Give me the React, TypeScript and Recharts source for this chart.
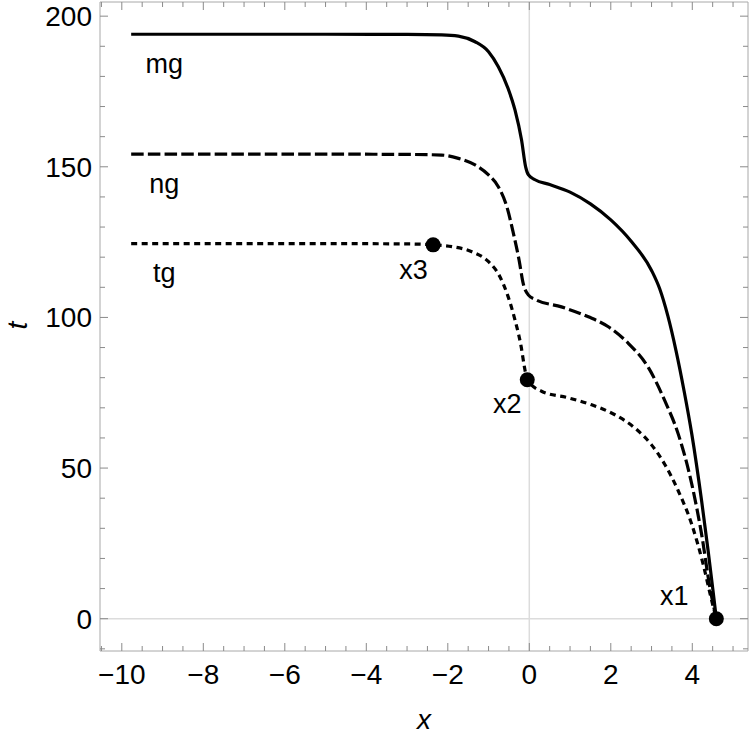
import { ComposedChart, Line, Scatter, XAxis, YAxis, ReferenceLine, Label } from "recharts";

const FONT = '"Liberation Sans", Arial, Helvetica, sans-serif';
const FRAME = "#a8a8a8";
const TICK = "#8a8a8a";
const ZERO = "#dcdcdc";

// axis ranges and tick labels
const X_DOMAIN: [number, number] = [-10.535, 5.367];
const T_DOMAIN: [number, number] = [-10.72, 204.7];
const X_MAJOR = [-10, -8, -6, -4, -2, 0, 2, 4];
const T_MAJOR = [0, 50, 100, 150, 200];
const X_MINOR_STEP = 0.5;
const T_MINOR_STEP = 10;

// marked points on the tg curve (x1 is shared by all three curves)
const X1: [number, number] = [4.59, 0];
const X2: [number, number] = [-0.05, 79.3];
const X3: [number, number] = [-2.36, 124.1];

// curves as [x, t]
const MG: [number, number][] = [
  [-9.77, 194], [-5, 194], [-3, 193.95], [-2.15, 193.8], [-1.74, 193.4], [-1.33, 191.5],
  [-1.0, 188.2], [-0.76, 183.2], [-0.52, 176], [-0.35, 168.8], [-0.19, 158.9], [-0.09, 150],
  [-0.02, 147.3], [0.14, 145.7], [0.5, 144.1], [1.0, 141.6], [1.5, 137.7], [2.0, 132.4],
  [2.5, 125.3], [3.0, 115.6], [3.2, 109.5], [3.4, 100.5], [3.6, 89], [3.8, 75.5],
  [3.99, 61.1], [4.23, 39], [4.39, 22.4], [4.52, 8], X1,
];

const NG: [number, number][] = [
  [-9.77, 154.2], [-5, 154.2], [-3, 154.1], [-2.15, 153.9], [-1.74, 152.8], [-1.33, 150.6],
  [-1.0, 147.3], [-0.76, 143.4], [-0.55, 136.7], [-0.39, 127.9], [-0.25, 119], [-0.15, 111.3],
  [-0.02, 107.4], [0.14, 106], [0.79, 103.5], [1.45, 100.2], [1.94, 96.9], [2.43, 91.4],
  [2.92, 83.4], [3.33, 72.2], [3.66, 61.1], [3.99, 44.5], [4.23, 27.9], [4.43, 10.5], X1,
];

const TG: [number, number][] = [
  [-9.77, 124.5], [-5, 124.5], [-3, 124.4], X3, [-1.9, 123.5], [-1.41, 121.8], [-1.0, 118.5],
  [-0.72, 113.5], [-0.52, 106.9], [-0.35, 99.1], [-0.2, 90.3], [-0.12, 83.6], X2,
  [0.3, 75.5], [0.96, 73.3], [1.53, 71], [2.1, 67.7], [2.59, 63.3], [3.0, 57.7], [3.33, 51.1],
  [3.66, 42.3], [3.99, 31.2], [4.27, 17.9], [4.48, 5.8], X1,
];

const CURVE_NAMES = ["mg", "ng", "tg"];
const POINT_NAMES = ["x1", "x2", "x3"];

// where each text sits relative to its anchor, in px
const NAME_OFFSET: [number, number] = [33, 38.5];
const POINT_OFFSET: Record<string, [number, number]> = {
  x1: [-42, -14],
  x2: [-20, 33],
  x3: [-19.5, 34],
};

const rows = (pts: [number, number][]) => pts.map(([x, t]) => ({ x, t }));

const mgData = rows(MG);
const ngData = rows(NG);
const tgData = rows(TG);
const nameData = [MG, NG, TG].map((c, i) => ({ x: c[0][0], t: c[0][1], name: CURVE_NAMES[i] }));
const pointData = [X1, X2, X3].map(([x, t], i) => ({ x, t, name: POINT_NAMES[i] }));

function stepTicks([lo, hi]: [number, number], step: number) {
  const out: number[] = [];
  for (let i = Math.ceil(lo / step); i * step <= hi; i++) out.push(+(i * step).toFixed(3));
  return out;
}

const xTicks = stepTicks(X_DOMAIN, X_MINOR_STEP);
const tTicks = stepTicks(T_DOMAIN, T_MINOR_STEP);

const fmt = (v: number) => (v < 0 ? "\u2212" + Math.abs(v) : String(v));

const BottomTick = ({ x, y, payload }: any) => {
  const major = X_MAJOR.includes(payload.value);
  return (
    <g>
      <line x1={x} x2={x} y1={y} y2={y - (major ? 8 : 5)} stroke={TICK} />
      {major && (
        <text x={x} y={y + 33} textAnchor="middle" fontSize={28} fontFamily={FONT} fill="#000">
          {fmt(payload.value)}
        </text>
      )}
    </g>
  );
};

const TopTick = ({ x, y, payload }: any) => {
  const major = X_MAJOR.includes(payload.value);
  return <line x1={x} x2={x} y1={y} y2={y + (major ? 8 : 5)} stroke={TICK} />;
};

const LeftTick = ({ x, y, payload }: any) => {
  const major = T_MAJOR.includes(payload.value);
  return (
    <g>
      <line x1={x} x2={x + (major ? 8 : 5)} y1={y} y2={y} stroke={TICK} />
      {major && (
        <text x={x - 8} y={y + 10} textAnchor="end" fontSize={28} fontFamily={FONT} fill="#000">
          {fmt(payload.value)}
        </text>
      )}
    </g>
  );
};

const RightTick = ({ x, y, payload }: any) => {
  const major = T_MAJOR.includes(payload.value);
  return <line x1={x} x2={x - (major ? 8 : 5)} y1={y} y2={y} stroke={TICK} />;
};

const CurveName = ({ cx, cy, payload }: any) => (
  <text
    x={cx + NAME_OFFSET[0]}
    y={cy + NAME_OFFSET[1]}
    textAnchor="middle"
    fontSize={27}
    fontFamily={FONT}
    fill="#000"
  >
    {payload.name}
  </text>
);

const KeyPoint = ({ cx, cy, payload }: any) => {
  const [dx, dy] = POINT_OFFSET[payload.name];
  return (
    <g>
      <circle cx={cx} cy={cy} r={7.5} fill="#000" />
      <text x={cx + dx} y={cy + dy} textAnchor="middle" fontSize={27} fontFamily={FONT} fill="#000">
        {payload.name}
      </text>
    </g>
  );
};

const axisText = { fontSize: 28, fontFamily: FONT, fontStyle: "italic", fill: "#000" };

export default function App() {
  return (
    <div style={{ position: "absolute", left: 0, top: 0, background: "#fff" }}>
      <ComposedChart width={750} height={736} margin={{ top: 1, right: 1, bottom: 0, left: 0 }}>
        <XAxis
          dataKey="x"
          type="number"
          domain={X_DOMAIN}
          allowDataOverflow
          ticks={xTicks}
          interval={0}
          tick={BottomTick}
          tickLine={false}
          tickSize={0}
          tickMargin={0}
          axisLine={{ stroke: FRAME }}
          height={85}
        >
          <Label
            content={({ viewBox }: any) => (
              <text x={viewBox.x + viewBox.width / 2} y={viewBox.y + 78} textAnchor="middle" {...axisText}>
                x
              </text>
            )}
          />
        </XAxis>
        <XAxis
          xAxisId="top"
          orientation="top"
          dataKey="x"
          type="number"
          domain={X_DOMAIN}
          allowDataOverflow
          ticks={xTicks}
          interval={0}
          tick={TopTick}
          tickLine={false}
          tickSize={0}
          tickMargin={0}
          axisLine={{ stroke: FRAME }}
          height={1}
        />
        <YAxis
          dataKey="t"
          type="number"
          domain={T_DOMAIN}
          allowDataOverflow
          ticks={tTicks}
          interval={0}
          tick={LeftTick}
          tickLine={false}
          tickSize={0}
          tickMargin={0}
          axisLine={{ stroke: FRAME }}
          width={100}
        >
          <Label
            content={({ viewBox }: any) => {
              const cx = 27;
              const cy = viewBox.y + viewBox.height / 2 - 1;
              return (
                <text x={cx} y={cy} textAnchor="middle" transform={`rotate(-90 ${cx} ${cy})`} {...axisText}>
                  t
                </text>
              );
            }}
          />
        </YAxis>
        <YAxis
          yAxisId="right"
          orientation="right"
          dataKey="t"
          type="number"
          domain={T_DOMAIN}
          allowDataOverflow
          ticks={tTicks}
          interval={0}
          tick={RightTick}
          tickLine={false}
          tickSize={0}
          tickMargin={0}
          axisLine={{ stroke: FRAME }}
          width={1}
        />

        <ReferenceLine x={0} stroke={ZERO} strokeWidth={1.5} />
        <ReferenceLine y={0} stroke={ZERO} strokeWidth={1.5} />

        <Line data={mgData} dataKey="t" type="monotone" stroke="#000" strokeWidth={3.2}
          dot={false} activeDot={false} isAnimationActive={false} />
        <Line data={ngData} dataKey="t" type="monotone" stroke="#000" strokeWidth={3.2}
          strokeDasharray="12.5 4.2" dot={false} activeDot={false} isAnimationActive={false} />
        <Line data={tgData} dataKey="t" type="monotone" stroke="#000" strokeWidth={3.2}
          strokeDasharray="6 4.5" dot={false} activeDot={false} isAnimationActive={false} />

        <Scatter data={nameData} dataKey="t" shape={CurveName} isAnimationActive={false} />
        <Scatter data={pointData} dataKey="t" shape={KeyPoint} isAnimationActive={false} />
      </ComposedChart>
    </div>
  );
}
